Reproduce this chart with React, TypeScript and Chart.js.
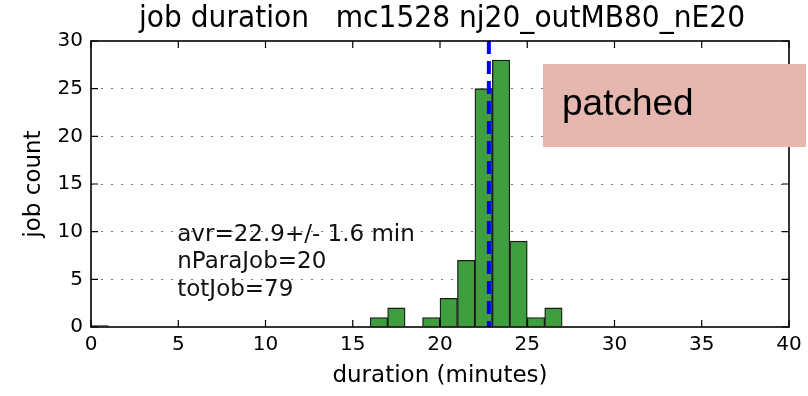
import React, { useEffect, useRef } from 'react';
import { Chart, registerables } from 'chart.js';

Chart.register(...registerables);

// ---- data ----
const binCenters = [0.5, 16.5, 17.5, 19.5, 20.5, 21.5, 22.5, 23.5, 24.5, 25.5, 26.5];
const jobCounts = [0.15, 1, 2, 1, 3, 7, 25, 28, 9, 1, 2];
const xTickValues = [0, 5, 10, 15, 20, 25, 30, 35, 40];
const yTickValues = [0, 5, 10, 15, 20, 25, 30];
const meanDuration = 22.8;
const titleText = 'job duration   mc1528 nj20_outMB80_nE20';
const xLabel = 'duration (minutes)';
const yLabel = 'job count';
const statsLines = ['avr=22.9+/- 1.6 min', 'nParaJob=20', 'totJob=79'];
const patchLabel = 'patched';

const overlayPlugin = {
  id: 'overlayPlugin',
  afterDatasetsDraw(chart: any) {
    const { ctx, chartArea: a, scales } = chart;
    const x = scales.x;
    const y = scales.y;
    ctx.save();
    // mean line
    const mx = x.getPixelForValue(meanDuration);
    ctx.strokeStyle = '#0000ff';
    ctx.lineWidth = 4;
    ctx.setLineDash([13, 7]);
    ctx.beginPath();
    ctx.moveTo(mx, a.top);
    ctx.lineTo(mx, a.bottom);
    ctx.stroke();
    ctx.setLineDash([]);
    // inward ticks on all four sides
    ctx.strokeStyle = '#000';
    ctx.lineWidth = 1.2;
    ctx.beginPath();
    for (const t of xTickValues) {
      const px = x.getPixelForValue(t);
      ctx.moveTo(px, a.bottom);
      ctx.lineTo(px, a.bottom - 7);
      ctx.moveTo(px, a.top);
      ctx.lineTo(px, a.top + 7);
    }
    for (const t of yTickValues) {
      const py = y.getPixelForValue(t);
      ctx.moveTo(a.left, py);
      ctx.lineTo(a.left + 7, py);
      ctx.moveTo(a.right, py);
      ctx.lineTo(a.right - 7, py);
    }
    ctx.stroke();
    // frame
    ctx.lineWidth = 1.6;
    ctx.strokeRect(a.left, a.top, a.right - a.left, a.bottom - a.top);
    // stats text
    ctx.fillStyle = '#111';
    ctx.font = '23px "DejaVu Sans"';
    ctx.textAlign = 'left';
    ctx.textBaseline = 'middle';
    const sx = x.getPixelForValue(5) - 1;
    statsLines.forEach((s, i) => {
      ctx.fillText(s, sx, 235 + i * 27.5);
    });
    // title
    ctx.font = '30px "DejaVu Sans"';
    ctx.textAlign = 'center';
    ctx.textBaseline = 'middle';
    ctx.fillStyle = '#000';
    ctx.fillText(titleText, 442, 19, 606);
    ctx.restore();
  },
  afterDraw(chart: any) {
    const { ctx } = chart;
    ctx.save();
    ctx.fillStyle = '#e6b7af';
    ctx.fillRect(543, 64, 263, 83);
    ctx.fillStyle = '#000';
    ctx.font = '37px "Liberation Sans"';
    ctx.textAlign = 'left';
    ctx.textBaseline = 'middle';
    ctx.fillText(patchLabel, 562, 105);
    ctx.restore();
  },
};

export default function App() {
  const ref = useRef<HTMLCanvasElement | null>(null);
  useEffect(() => {
    if (!ref.current) return;
    Chart.defaults.font.family = '"DejaVu Sans"';
    const chart = new Chart(ref.current, {
      type: 'bar',
      data: {
        datasets: [
          {
            data: binCenters.map((c, i) => ({ x: c, y: jobCounts[i] })),
            backgroundColor: '#3f9f3f',
            borderColor: '#1a1a1a',
            borderWidth: 1.3,
            barPercentage: 1,
            categoryPercentage: 1,
          },
        ],
      },
      options: {
        animation: false,
        responsive: false,
        maintainAspectRatio: false,
        layout: { padding: { top: 41, right: 19, left: 0, bottom: 0 } },
        plugins: { legend: { display: false }, tooltip: { enabled: false }, title: { display: false } },
        scales: {
          x: {
            type: 'linear',
            min: 0,
            max: 40,
            offset: false,
            grid: { display: false, drawTicks: false },
            border: { display: false },
            ticks: { stepSize: 5, color: '#000', font: { size: 20 }, padding: 6, maxRotation: 0, autoSkip: false },
            title: { display: true, text: xLabel, color: '#000', font: { size: 23 }, padding: { top: 0, bottom: 6 } },
            afterFit: (s: any) => { s.height = 69; },
          },
          y: {
            min: 0,
            max: 30,
            grid: {
              drawTicks: false,
              lineWidth: 1,
              color: (c: any) => (c.tick && (c.tick.value === 0 || c.tick.value === 30) ? 'rgba(0,0,0,0)' : '#777'),
            },
            border: { display: false, dash: [2, 8] },
            ticks: { stepSize: 5, color: '#000', font: { size: 20 }, padding: 8 },
            title: { display: true, text: yLabel, color: '#000', font: { size: 23 }, padding: { top: 20, bottom: 0 } },
            afterFit: (s: any) => { s.width = 91; },
          },
        },
      },
      plugins: [overlayPlugin],
    } as any);
    return () => chart.destroy();
  }, []);
  return (
    <div style={{ position: 'absolute', left: 0, top: 0, width: 808, height: 396, background: '#fff' }}>
      <canvas ref={ref} width={808} height={396} style={{ width: 808, height: 396, display: 'block' }} />
    </div>
  );
}
